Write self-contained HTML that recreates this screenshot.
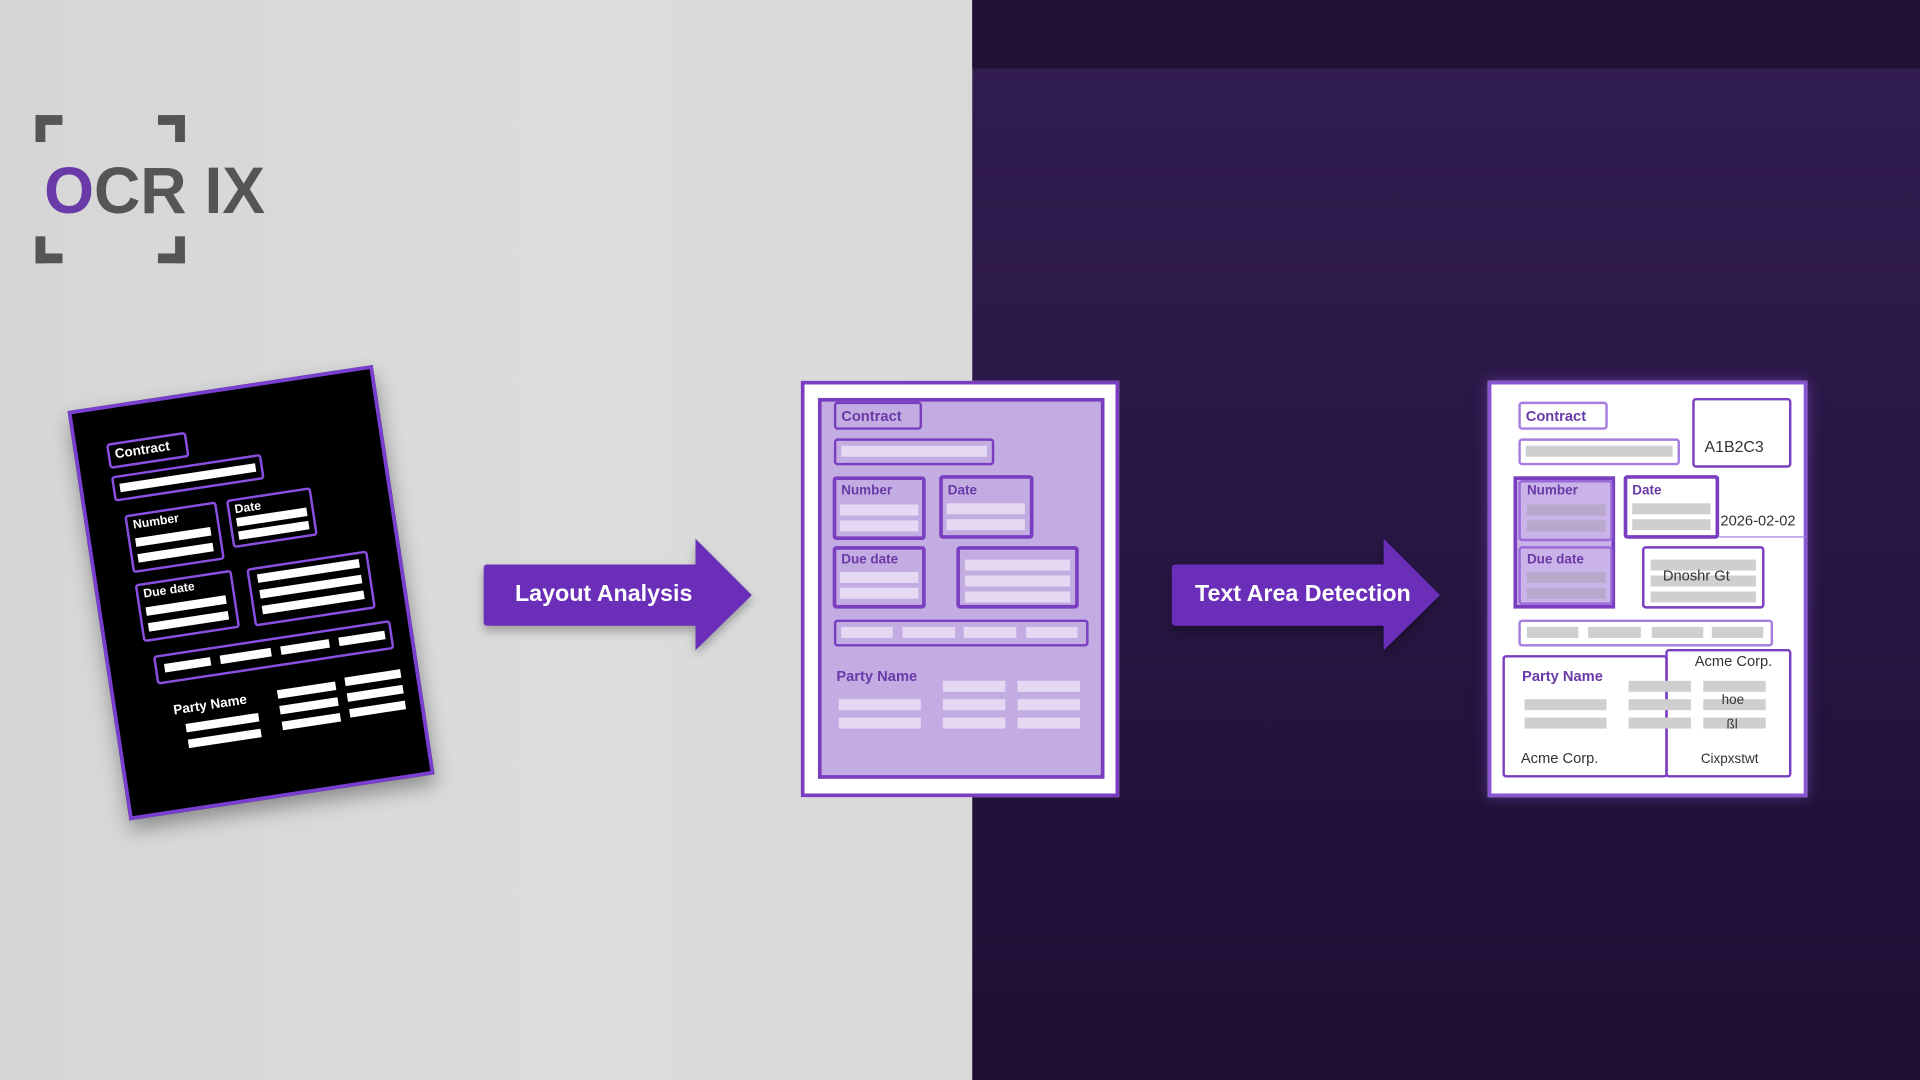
<!DOCTYPE html>
<html><head><meta charset="utf-8"><style>
html,body{margin:0;padding:0;width:1920px;height:1080px;overflow:hidden;background:#d9d9d9}
#s{position:absolute;left:0;top:0;width:1568px;height:882px;transform:scale(1.22449);transform-origin:0 0;font-family:"Liberation Sans",sans-serif}
.a{position:absolute;box-sizing:border-box}
.lb{position:absolute;box-sizing:border-box;border:2px solid #7a3fc0;border-radius:3px}
.bar{position:absolute;background:#e4d8f3;height:9px}
.gb{position:absolute;background:#cfcfcf;height:9px}
.wb{position:absolute;background:#fff;height:7px}
.t{position:absolute;font-weight:bold;font-size:12px;color:#6a3aa8;white-space:nowrap}
</style></head><body><div id="s">
<div class="a" style="left:0;top:0;width:794px;height:882px;background:linear-gradient(90deg,#d6d6d6,#dcdcdc 60%,#d9d9d9)"></div>
<div class="a" style="left:794px;top:0;width:774px;height:882px;background:linear-gradient(180deg,#331d52 0%,#2a1746 40%,#1d0f33 100%)"></div>
<div class="a" style="left:794px;top:0;width:774px;height:56px;background:#1f1234"></div>

<!-- logo -->
<div class="a" style="left:29px;top:94px;width:22px;height:22px;border-left:8px solid #555;border-top:8px solid #555"></div>
<div class="a" style="left:129px;top:94px;width:22px;height:22px;border-right:8px solid #555;border-top:8px solid #555"></div>
<div class="a" style="left:29px;top:193px;width:22px;height:22px;border-left:8px solid #555;border-bottom:8px solid #555"></div>
<div class="a" style="left:129px;top:193px;width:22px;height:22px;border-right:8px solid #555;border-bottom:8px solid #555"></div>
<div class="a" style="left:36px;top:128px;font-size:54px;font-weight:bold;color:#555;line-height:56px;letter-spacing:0px;transform:scaleX(.97);transform-origin:0 0;white-space:nowrap"><span style="color:#6a3aa8">O</span>CR IX</div>

<!-- left doc -->
<div class="a" style="left:79px;top:315px;width:252px;height:338px;background:#000;border:3px solid #7a3fd0;transform:rotate(-8.6deg);box-shadow:0 8px 16px rgba(0,0,0,.35)">
  <div class="lb" style="left:24px;top:28px;width:66px;height:21px;border-color:#8a4fe0"></div>
  <div class="a" style="left:30px;top:32px;color:#fff;font-weight:bold;font-size:11px">Contract</div>
  <div class="lb" style="left:24px;top:55px;width:124px;height:21px;border-color:#8a4fe0"></div><div class="wb" style="left:30px;top:62px;width:112px"></div>
  <div class="lb" style="left:30px;top:88px;width:76px;height:48px;border-color:#8a4fe0"></div>
  <div class="a" style="left:36px;top:92px;color:#fff;font-weight:bold;font-size:10px">Number</div>
  <div class="wb" style="left:36px;top:108px;width:62px"></div><div class="wb" style="left:36px;top:121px;width:62px"></div>
  <div class="lb" style="left:114px;top:88px;width:70px;height:40px;border-color:#8a4fe0"></div>
  <div class="a" style="left:120px;top:92px;color:#fff;font-weight:bold;font-size:10px">Date</div>
  <div class="wb" style="left:120px;top:104px;width:58px"></div><div class="wb" style="left:120px;top:115px;width:58px"></div>
  <div class="lb" style="left:30px;top:145px;width:80px;height:48px;border-color:#8a4fe0"></div>
  <div class="a" style="left:36px;top:149px;color:#fff;font-weight:bold;font-size:10px">Due date</div>
  <div class="wb" style="left:36px;top:165px;width:66px"></div><div class="wb" style="left:36px;top:178px;width:66px"></div>
  <div class="lb" style="left:122px;top:146px;width:100px;height:48px;border-color:#8a4fe0"></div>
  <div class="wb" style="left:130px;top:152px;width:84px"></div><div class="wb" style="left:130px;top:165px;width:84px"></div><div class="wb" style="left:130px;top:178px;width:84px"></div>
  <div class="lb" style="left:36px;top:205px;width:196px;height:24px;border-color:#8a4fe0"></div>
  <div class="wb" style="left:44px;top:213px;width:38px"></div><div class="wb" style="left:90px;top:213px;width:42px"></div><div class="wb" style="left:140px;top:213px;width:40px"></div><div class="wb" style="left:188px;top:213px;width:38px"></div>
  <div class="a" style="left:46px;top:246px;color:#fff;font-weight:bold;font-size:11px">Party Name</div>
  <div class="wb" style="left:54px;top:264px;width:60px"></div><div class="wb" style="left:54px;top:277px;width:60px"></div>
  <div class="wb" style="left:132px;top:248px;width:48px"></div><div class="wb" style="left:132px;top:261px;width:48px"></div><div class="wb" style="left:132px;top:274px;width:48px"></div>
  <div class="wb" style="left:188px;top:246px;width:46px"></div><div class="wb" style="left:188px;top:259px;width:46px"></div><div class="wb" style="left:188px;top:272px;width:46px"></div>
</div>

<!-- arrows -->
<svg class="a" style="left:0;top:0" width="1568" height="882">
<defs><filter id="sh"><feDropShadow dx="0" dy="4" stdDeviation="4" flood-opacity=".3"/></filter></defs>
<path d="M398 461 H568 V440 L614 486 L568 531 V511 H398 Q395 511 395 508 V464 Q395 461 398 461Z" fill="#6a2fb8" filter="url(#sh)"/>
<path d="M960 461 H1130 V440 L1176 486 L1130 531 V511 H960 Q957 511 957 508 V464 Q957 461 960 461Z" fill="#6a2fb8" filter="url(#sh)"/>
<text x="493" y="491" fill="#fff" font-size="19" font-weight="bold" text-anchor="middle" font-family="Liberation Sans,sans-serif">Layout Analysis</text>
<text x="1064" y="491" fill="#fff" font-size="19" font-weight="bold" text-anchor="middle" font-family="Liberation Sans,sans-serif">Text Area Detection</text>
</svg>

<!-- middle panel -->
<div class="a" style="left:654px;top:311px;width:260px;height:340px;background:#fff;border:3px solid #7a3fc0"></div>
<div class="a" style="left:668px;top:325px;width:234px;height:311px;background:#c3ace2;border:3px solid #7a3fc0"></div>
<div class="lb" style="left:681px;top:328px;width:72px;height:23px"></div><div class="t" style="left:687px;top:333px">Contract</div>
<div class="lb" style="left:681px;top:358px;width:131px;height:22px"></div><div class="bar" style="left:687px;top:364px;width:119px"></div>
<div class="lb" style="left:680px;top:389px;width:76px;height:52px;border-width:3px"></div><div class="t" style="left:687px;top:395px;font-size:11px">Number</div>
<div class="bar" style="left:686px;top:412px;width:64px"></div><div class="bar" style="left:686px;top:425px;width:64px"></div>
<div class="lb" style="left:767px;top:388px;width:77px;height:52px;border-width:3px"></div><div class="t" style="left:774px;top:395px;font-size:11px">Date</div>
<div class="bar" style="left:773px;top:411px;width:64px"></div><div class="bar" style="left:773px;top:424px;width:64px"></div>
<div class="lb" style="left:680px;top:446px;width:76px;height:51px;border-width:3px"></div><div class="t" style="left:687px;top:451px;font-size:11px">Due date</div>
<div class="bar" style="left:686px;top:467px;width:64px"></div><div class="bar" style="left:686px;top:480px;width:64px"></div>
<div class="lb" style="left:781px;top:446px;width:100px;height:51px;border-width:3px"></div>
<div class="bar" style="left:788px;top:457px;width:86px"></div><div class="bar" style="left:788px;top:470px;width:86px"></div><div class="bar" style="left:788px;top:483px;width:86px"></div>
<div class="lb" style="left:681px;top:506px;width:208px;height:22px"></div>
<div class="bar" style="left:687px;top:512px;width:42px"></div><div class="bar" style="left:737px;top:512px;width:43px"></div><div class="bar" style="left:787px;top:512px;width:43px"></div><div class="bar" style="left:838px;top:512px;width:42px"></div>
<div class="t" style="left:683px;top:545px">Party Name</div>
<div class="bar" style="left:685px;top:571px;width:67px"></div><div class="bar" style="left:685px;top:586px;width:67px"></div>
<div class="bar" style="left:770px;top:556px;width:51px"></div><div class="bar" style="left:770px;top:571px;width:51px"></div><div class="bar" style="left:770px;top:586px;width:51px"></div>
<div class="bar" style="left:831px;top:556px;width:51px"></div><div class="bar" style="left:831px;top:571px;width:51px"></div><div class="bar" style="left:831px;top:586px;width:51px"></div>

<!-- right panel -->
<div class="a" style="left:1215px;top:311px;width:261px;height:340px;background:#fff;border:3px solid #8a55d0;box-shadow:0 0 10px rgba(140,90,220,.5)"></div>
<div class="lb" style="left:1240px;top:328px;width:73px;height:23px;border-color:#a57ee0"></div><div class="t" style="left:1246px;top:333px">Contract</div>
<div class="lb" style="left:1240px;top:358px;width:132px;height:22px;border-color:#a57ee0"></div><div class="gb" style="left:1246px;top:364px;width:120px"></div>
<div class="lb" style="left:1382px;top:325px;width:81px;height:57px"></div>
<div class="a" style="left:1392px;top:357px;font-size:13px;color:#333">A1B2C3</div>
<div class="a" style="left:1236px;top:389px;width:83px;height:108px;background:#c9b3e8;border:3px solid #7a3fc0"></div>
<div class="lb" style="left:1240px;top:392px;width:77px;height:50px;border-color:#9a6ad8"></div>
<div class="lb" style="left:1240px;top:446px;width:77px;height:48px;border-color:#9a6ad8"></div>
<div class="t" style="left:1247px;top:395px;font-size:11px">Number</div>
<div class="gb" style="left:1247px;top:412px;width:64px;background:#b8a8cc"></div><div class="gb" style="left:1247px;top:425px;width:64px;background:#b8a8cc"></div>
<div class="t" style="left:1247px;top:451px;font-size:11px">Due date</div>
<div class="gb" style="left:1247px;top:467px;width:64px;background:#b8a8cc"></div><div class="gb" style="left:1247px;top:480px;width:64px;background:#b8a8cc"></div>
<div class="lb" style="left:1326px;top:388px;width:78px;height:52px;border-width:3px"></div><div class="t" style="left:1333px;top:395px;font-size:11px">Date</div>
<div class="gb" style="left:1333px;top:411px;width:64px"></div><div class="gb" style="left:1333px;top:424px;width:64px"></div>
<div class="a" style="left:1404px;top:382px;width:71px;height:57px;border-bottom:1px solid #a57ee0"></div>
<div class="a" style="left:1405px;top:418px;font-size:12px;color:#333">2026-02-02</div>
<div class="lb" style="left:1341px;top:446px;width:100px;height:51px"></div>
<div class="gb" style="left:1348px;top:457px;width:86px"></div><div class="gb" style="left:1348px;top:470px;width:86px"></div><div class="gb" style="left:1348px;top:483px;width:86px"></div>
<div class="a" style="left:1358px;top:463px;font-size:12px;color:#333">Dnoshr Gt</div>
<div class="lb" style="left:1240px;top:506px;width:208px;height:22px;border-color:#a57ee0"></div>
<div class="gb" style="left:1247px;top:512px;width:42px"></div><div class="gb" style="left:1297px;top:512px;width:43px"></div><div class="gb" style="left:1349px;top:512px;width:42px"></div><div class="gb" style="left:1398px;top:512px;width:42px"></div>
<div class="lb" style="left:1227px;top:535px;width:135px;height:100px"></div>
<div class="lb" style="left:1360px;top:530px;width:103px;height:105px"></div>
<div class="t" style="left:1243px;top:545px">Party Name</div>
<div class="gb" style="left:1245px;top:571px;width:67px"></div><div class="gb" style="left:1245px;top:586px;width:67px"></div>
<div class="gb" style="left:1330px;top:556px;width:51px"></div><div class="gb" style="left:1330px;top:571px;width:51px"></div><div class="gb" style="left:1330px;top:586px;width:51px"></div>
<div class="gb" style="left:1391px;top:556px;width:51px"></div><div class="gb" style="left:1391px;top:571px;width:51px"></div><div class="gb" style="left:1391px;top:586px;width:51px"></div>
<div class="a" style="left:1384px;top:533px;font-size:12px;color:#333">Acme Corp.</div>
<div class="a" style="left:1406px;top:566px;font-size:11px;color:#333">hoe</div>
<div class="a" style="left:1410px;top:586px;font-size:11px;color:#333">ßl</div>
<div class="a" style="left:1242px;top:612px;font-size:12px;color:#333">Acme Corp.</div>
<div class="a" style="left:1389px;top:614px;font-size:11px;color:#333">Cixpxstwt</div>
</div></body></html>
